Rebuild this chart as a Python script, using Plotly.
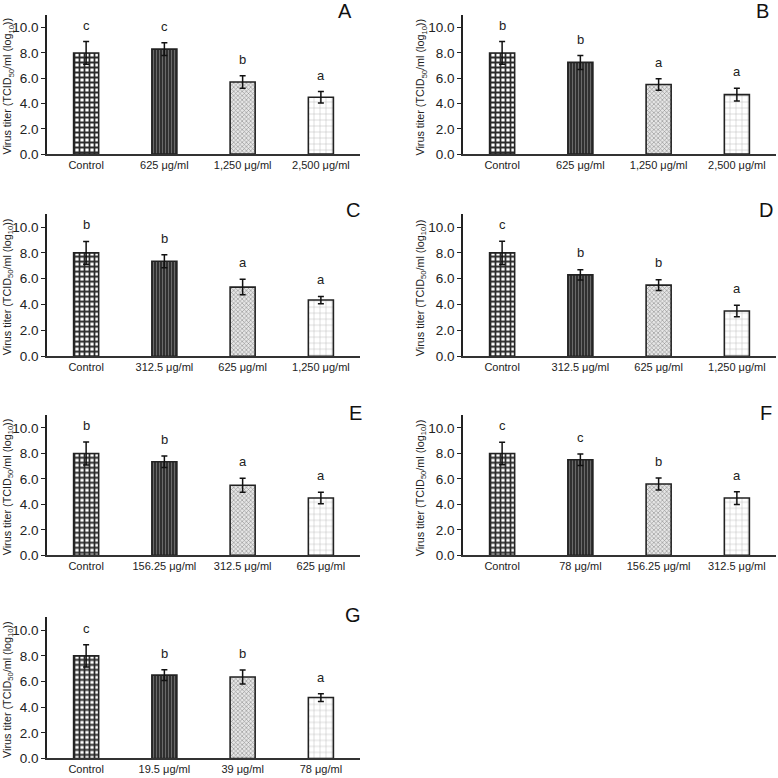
import plotly.graph_objects as go

# ---------------- data ----------------
panels = ["A", "B", "C", "D", "E", "F", "G"]

A_labels = ["Control", "625 μg/ml", "1,250 μg/ml", "2,500 μg/ml"]
A_means = [8.0, 8.3, 5.7, 4.5]
A_errs = [0.9, 0.5, 0.5, 0.45]
A_letters = ["c", "c", "b", "a"]

B_labels = ["Control", "625 μg/ml", "1,250 μg/ml", "2,500 μg/ml"]
B_means = [8.0, 7.25, 5.5, 4.7]
B_errs = [0.9, 0.55, 0.45, 0.5]
B_letters = ["b", "b", "a", "a"]

C_labels = ["Control", "312.5 μg/ml", "625 μg/ml", "1,250 μg/ml"]
C_means = [8.0, 7.35, 5.35, 4.35]
C_errs = [0.88, 0.5, 0.6, 0.28]
C_letters = ["b", "b", "a", "a"]

D_labels = ["Control", "312.5 μg/ml", "625 μg/ml", "1,250 μg/ml"]
D_means = [8.0, 6.3, 5.5, 3.5]
D_errs = [0.9, 0.4, 0.42, 0.45]
D_letters = ["c", "b", "b", "a"]

E_labels = ["Control", "156.25 μg/ml", "312.5 μg/ml", "625 μg/ml"]
E_means = [8.0, 7.35, 5.5, 4.5]
E_errs = [0.9, 0.45, 0.55, 0.45]
E_letters = ["b", "b", "a", "a"]

F_labels = ["Control", "78 μg/ml", "156.25 μg/ml", "312.5 μg/ml"]
F_means = [8.0, 7.5, 5.6, 4.5]
F_errs = [0.88, 0.45, 0.47, 0.5]
F_letters = ["c", "c", "b", "a"]

G_labels = ["Control", "19.5 μg/ml", "39 μg/ml", "78 μg/ml"]
G_means = [8.0, 6.5, 6.35, 4.75]
G_errs = [0.87, 0.42, 0.55, 0.3]
G_letters = ["c", "b", "b", "a"]

y_ticks = [0, 2, 4, 6, 8, 10]
y_title = "Virus titer (TCID<sub>50</sub>/ml (log<sub>10</sub>))"

data = {
    "A": (A_labels, A_means, A_errs, A_letters),
    "B": (B_labels, B_means, B_errs, B_letters),
    "C": (C_labels, C_means, C_errs, C_letters),
    "D": (D_labels, D_means, D_errs, D_letters),
    "E": (E_labels, E_means, E_errs, E_letters),
    "F": (F_labels, F_means, F_errs, F_letters),
    "G": (G_labels, G_means, G_errs, G_letters),
}

# ---------------- styling / geometry (pixels) ----------------
W = H = 778
YS = 1.011  # small vertical correction for the capture
FONT = "Liberation Sans, Arial, sans-serif"
col_x = {0: (47, 360), 1: (463, 776)}
row_y = {0: (15, 154), 1: (214, 356), 2: (415, 555), 3: (617, 758)}
title_x = {0: 8, 1: 421}
letter_pos = {"A": (345, 11), "B": (762, 11), "C": (353, 210), "D": (766, 210),
              "E": (355, 413), "F": (766, 413), "G": (353, 615)}

patterns = [
    dict(shape="+", fgcolor="#2a2a2a", bgcolor="#ffffff", size=5, solidity=0.58),
    dict(shape="|", fgcolor="#6a6a6a", bgcolor="#303030", size=3, solidity=0.35),
    dict(shape="x", fgcolor="#8c8c8c", bgcolor="#e6e6e6", size=3, solidity=0.35),
    dict(shape="+", fgcolor="#b0b0b0", bgcolor="#ffffff", size=6, solidity=0.14),
]


def px_x(p):
    return p / W


def px_y(p):
    return max(0.0, 1 - p * YS / H)


fig = go.Figure()
annotations = []
layout_axes = {}

for i, name in enumerate(panels):
    labels, means, errs, letters = data[name]
    row, col = divmod(i, 2)
    n = "" if i == 0 else str(i + 1)
    xa, ya = "x" + n, "y" + n
    for k, (lab, m, e) in enumerate(zip(labels, means, errs)):
        p = patterns[k]
        fig.add_trace(go.Bar(
            x=[lab], y=[m], xaxis=xa, yaxis=ya, width=0.32,
            error_y=dict(type="data", array=[e], visible=True, color="#111111",
                         thickness=1.5, width=3),
            marker=dict(color=p["bgcolor"], line=dict(color="#222222", width=1.6),
                        pattern=dict(fillmode="replace", **p)),
            showlegend=False, hoverinfo="x+y",
        ))
    x0, x1 = col_x[col]
    yt, yb = row_y[row]
    layout_axes["xaxis" + n] = dict(
        domain=[px_x(x0), px_x(x1)], anchor=ya, showline=True, linecolor="#333333",
        linewidth=1.5, ticks="", showgrid=False, zeroline=False,
        tickfont=dict(size=11, color="#222222", family=FONT), fixedrange=True,
        range=[-0.5, 3.5], categoryorder="array", categoryarray=labels,
    )
    layout_axes["yaxis" + n] = dict(
        domain=[px_y(yb), px_y(yt)], anchor=xa, range=[0, 11], tickvals=y_ticks,
        tickformat=".1f", showline=True, linecolor="#222222", linewidth=1.5,
        ticks="outside", ticklen=4, tickwidth=1, tickcolor="#222222",
        showgrid=False, zeroline=False,
        tickfont=dict(size=13.5, color="#222222", family=FONT),
    )
    # significance letters
    for lab, m, e, let in zip(labels, means, errs, letters):
        annotations.append(dict(x=lab, y=m + e + 1.3, xref=xa, yref=ya, text=let,
                                showarrow=False, font=dict(size=13, color="#222222", family=FONT)))
    # panel letter
    lx, ly = letter_pos[name]
    annotations.append(dict(x=px_x(lx), y=px_y(ly), xref="paper", yref="paper", text=name,
                            showarrow=False, xanchor="center", yanchor="middle",
                            font=dict(size=20, color="#111111", family=FONT)))
    # y title
    annotations.append(dict(x=px_x(title_x[col]), y=px_y((yt + yb) / 2 + 2), xref="paper", yref="paper",
                            text=y_title, textangle=-90, showarrow=False,
                            xanchor="center", yanchor="middle",
                            font=dict(size=10.8, color="#222222", family=FONT)))

fig.update_layout(
    width=W, height=H, margin=dict(l=0, r=0, t=0, b=0),
    paper_bgcolor="white", plot_bgcolor="white", barmode="overlay",
    font=dict(family=FONT, color="#222222"),
    annotations=annotations, **layout_axes,
)

page_fix = (
    "var d=document.documentElement,b=document.body;"
    "[d,b].forEach(function(e){e.style.margin='0';e.style.padding='0';"
    "e.style.overflow='hidden';e.style.height='778px';});"
    "b.style.fontSize='0';b.style.lineHeight='0';"
)

fig.write_html("out.html", config={"displayModeBar": False}, post_script=page_fix)
